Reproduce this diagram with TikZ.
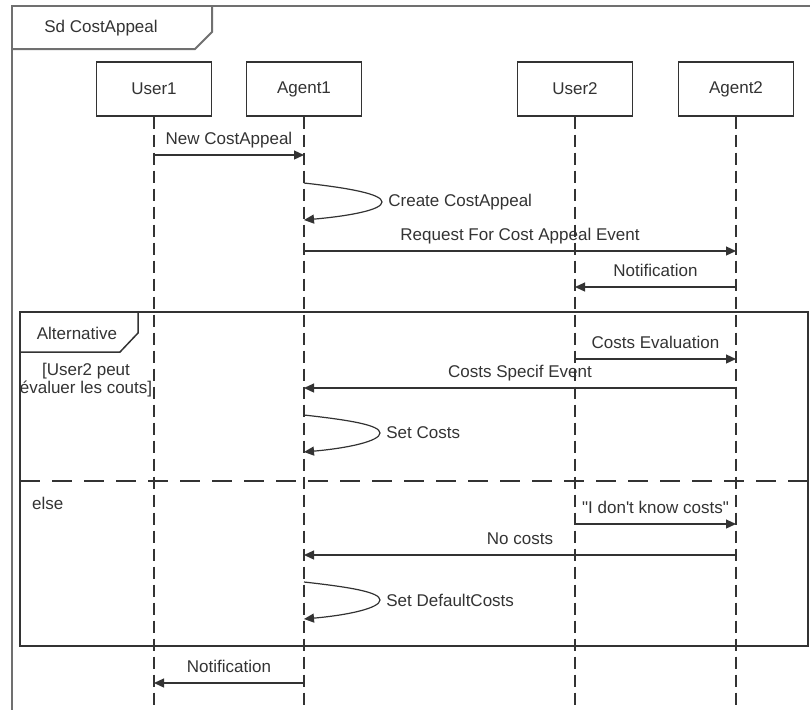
\documentclass[tikz,border=0pt]{standalone}
\usepackage{fontspec}
\setmainfont{Liberation Sans}
\usetikzlibrary{arrows.meta,positioning,calc}
\definecolor{ink}{HTML}{333333}
\definecolor{framegray}{HTML}{707070}
\tikzset{
  txt/.style={font=\fontsize{8.5}{9}\selectfont,text=ink},
  head/.style={
    txt,draw=ink,fill=white,line width=.6pt,
    minimum width=57.5pt,minimum height=27pt,inner sep=0pt
  },
  life/.style={draw=ink,line width=.6pt,dash pattern=on 6pt off 3pt},
  msg/.style={-{Triangle[length=5pt,width=4.5pt]},draw=ink,line width=.6pt},
  msglabel/.style={txt,anchor=base,yshift=5.5pt,inner sep=0pt},
  selflabel/.style={txt,right=3pt,inner sep=0pt},
  frame/.style={draw=framegray,line width=1pt},
  fragment/.style={draw=ink,line width=.75pt},
  operand/.style={draw=ink,line width=.7pt,dash pattern=on 10pt off 6pt}
}
\begin{document}
\begin{tikzpicture}[x=0.5pt,y=-0.5pt]
\useasboundingbox (0,0) rectangle (810,709);

% outer sd frame
\draw[frame] (12,725) -- (12,6) -- (830,6);
\draw[frame] (12,49) -- (195,49) -- (212,32) -- (212,6);
\node[txt] (sdname) at (101,28) {Sd CostAppeal};

% lifelines
\coordinate (bottom) at (0,720);
\node[head] (user1) at (154,89) {User1};
\node[head] (agent1) at (304,89) {Agent1};
\node[head] (user2) at (575,89) {User2};
\node[head] (agent2) at (736,89) {Agent2};
\foreach \who in {user1,agent1,user2,agent2}
  \draw[life] (\who.south) -- (\who.south |- bottom);

% alternative fragment
\draw[fragment] (20,312) rectangle (808,646);
\draw[fragment] (20,352) -- (120,352) -- (138,333) -- (138,312);
\node[txt] (altname) at (77,333) {Alternative};
\node[txt,align=center] (guard) at (86,380) {[User2 peut\\évaluer les couts]};
\draw[operand] (20,481) -- (808,481);
\node[txt,anchor=west] (elsename) at (25,503) {else};

% messages
\draw[msg] (user1 |- 0,155) -- (agent1 |- 0,155)
  node[msglabel,midway] {New CostAppeal};

\draw[msg] (agent1 |- 0,183) .. controls +(45,5) and +(0,-8) .. ++(78,19)
  coordinate (create) .. controls +(0,8) and +(45,-4) .. (agent1 |- 0,220);
\node[selflabel] (createlabel) at (create) {Create CostAppeal};

\draw[msg] (agent1 |- 0,251) -- (agent2 |- 0,251)
  node[msglabel,midway] {Request For Cost Appeal Event};
\draw[msg] (agent2 |- 0,287) -- (user2 |- 0,287)
  node[msglabel,midway] {Notification};

\draw[msg] (user2 |- 0,359) -- (agent2 |- 0,359)
  node[msglabel,midway] {Costs Evaluation};
\draw[msg] (agent2 |- 0,388) -- (agent1 |- 0,388)
  node[msglabel,midway] {Costs Specif Event};

\draw[msg] (agent1 |- 0,415) .. controls +(45,5) and +(0,-8) .. ++(76,18)
  coordinate (setcosts) .. controls +(0,8) and +(45,-4) .. (agent1 |- 0,452);
\node[selflabel] (setcostslabel) at (setcosts) {Set Costs};

\draw[msg] (user2 |- 0,524) -- (agent2 |- 0,524)
  node[msglabel,midway] {\textquotedbl I don\textquotesingle t know costs\textquotedbl};
\draw[msg] (agent2 |- 0,555) -- (agent1 |- 0,555)
  node[msglabel,midway] {No costs};

\draw[msg] (agent1 |- 0,582) .. controls +(45,5) and +(0,-8) .. ++(76,18)
  coordinate (setdefault) .. controls +(0,8) and +(45,-4) .. (agent1 |- 0,619);
\node[selflabel] (setdefaultlabel) at (setdefault) {Set DefaultCosts};

\draw[msg] (agent1 |- 0,683) -- (user1 |- 0,683)
  node[msglabel,midway] {Notification};
\end{tikzpicture}
\end{document}
